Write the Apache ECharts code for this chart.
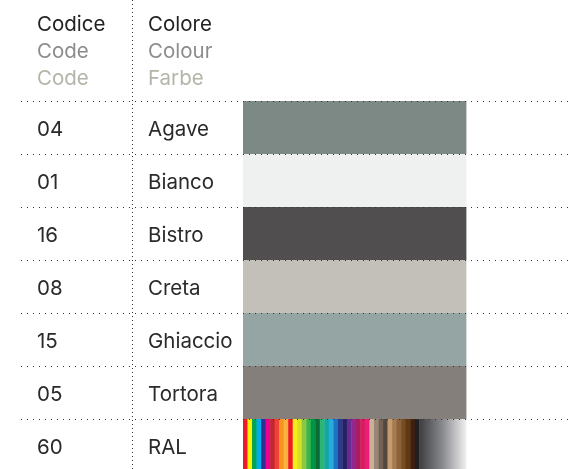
<!DOCTYPE html>
<html>
<head>
<meta charset="utf-8">
<script src="https://cdn.jsdelivr.net/npm/echarts@6/dist/echarts.min.js"></script>
<style>
html,body{margin:0;padding:0;background:#fff;overflow:hidden;}
#chart{width:585px;height:475px;}
</style>
</head>
<body>
<div id="chart"></div>
<script>
// ---- data ----
const codes = ['04', '01', '16', '08', '15', '05', '60'];
const names = ['Agave', 'Bianco', 'Bistro', 'Creta', 'Ghiaccio', 'Tortora', 'RAL'];
const swatchColors = ['#7d8985', '#eff1f0', '#514e4f', '#c3c0b9', '#95a5a3', '#847f7b', null];
const headerCode = ['Codice', 'Code', 'Code'];
const headerColour = ['Colore', 'Colour', 'Farbe'];
const headerColors = ['#222222', '#8c8c8c', '#b5b4a9'];
const ralStripes = [
  '#ed1c24', '#fff200', '#00a651', '#00aeef', '#2e3192', '#ec008c', '#c1272d', '#ef4136',
  '#f7941d', '#fbb040', '#ed1c24', '#f7ec1d', '#d7df23', '#8dc63f', '#39b54a', '#009444',
  '#0b6c3a', '#2bb673', '#13a89e', '#27aae1', '#1c75bc', '#2b3990', '#262262', '#662d91',
  '#92278f', '#a91e62', '#da1c5c', '#ed1e79', '#c7b299', '#998675', '#736357', '#534741',
  '#c69c6d', '#a67c52', '#8c6239', '#754c24', '#603913', '#42210b', '#231f20'
];
const ralStripeSpan = 0.79;   // share of the swatch covered by stripes
const ralGradient = ['#3d3d40', '#8a8b8f', '#f0f0f0'];

// ---- layout ----
const GRID_LEFT = 21, GRID_RIGHT = 570, SW_LEFT = 243, SW_RIGHT = 466;
const swW = SW_RIGHT - SW_LEFT;
const xMin = -(SW_LEFT - GRID_LEFT) / swW;
const xMax = (GRID_RIGHT - SW_LEFT) / swW;
const ROW_H = 53, GRID_TOP = 101;
const FONT = 20.5;

// build rectangles
const items = [];
swatchColors.forEach((c, i) => {
  if (c) items.push({ value: [0, 1, i], fill: c });
});
const ralRow = names.indexOf('RAL');
const sw = ralStripeSpan / ralStripes.length;
ralStripes.forEach((c, k) => {
  items.push({ value: [k * sw, (k + 1) * sw, ralRow], fill: c });
});
items.push({
  value: [ralStripeSpan, 1, ralRow],
  fill: new echarts.graphic.LinearGradient(0, 0, 1, 0, [
    { offset: 0, color: ralGradient[0] },
    { offset: 0.5, color: ralGradient[1] },
    { offset: 1, color: ralGradient[2] }
  ])
});

const chart = echarts.init(document.getElementById('chart'), null, { renderer: 'canvas' });

const headerGraphics = [];
headerCode.forEach((t, i) => {
  headerGraphics.push({
    type: 'text', left: 37, top: 14 + i * 27,
    style: { text: t, fill: headerColors[i], font: '400 ' + FONT + 'px Inter' }
  });
});
headerColour.forEach((t, i) => {
  headerGraphics.push({
    type: 'text', left: 148, top: 14 + i * 27,
    style: { text: t, fill: headerColors[i], font: '400 ' + FONT + 'px Inter' }
  });
});
headerGraphics.push({
  type: 'line', z: 10,
  shape: { x1: 132.5, y1: 0, x2: 132.5, y2: 469 },
  style: { stroke: '#333', lineWidth: 1, lineDash: [1, 3] }
});

chart.setOption({
  animation: false,
  backgroundColor: '#ffffff',
  grid: { left: GRID_LEFT, width: GRID_RIGHT - GRID_LEFT, top: GRID_TOP, height: ROW_H * codes.length },
  xAxis: { type: 'value', min: xMin, max: xMax, show: false },
  yAxis: {
    type: 'category', data: codes, inverse: true, z: 5,
    axisLine: { show: false }, axisTick: { show: false },
    splitLine: { show: true, interval: 0, lineStyle: { color: '#333', width: 1, type: [1, 5] } },
    axisLabel: {
      inside: true, margin: 16, interval: 0, padding: [5, 0, 0, 0],
      formatter: (v, i) => '{c|' + v + '}{n|' + names[i] + '}',
      rich: {
        c: { width: 111, fontSize: FONT, fontFamily: 'Inter', color: '#2a2a2a' },
        n: { fontSize: FONT, fontFamily: 'Inter', color: '#2a2a2a' }
      }
    }
  },
  graphic: headerGraphics,
  series: [{
    type: 'custom',
    z: 2,
    renderItem: function (params, api) {
      const p0 = api.coord([api.value(0), api.value(2)]);
      const p1 = api.coord([api.value(1), api.value(2)]);
      const h = api.size([0, 1])[1];
      return {
        type: 'rect',
        shape: { x: p0[0], y: p0[1] - h / 2, width: p1[0] - p0[0] + 0.4, height: h },
        style: { fill: items[params.dataIndex].fill }
      };
    },
    encode: { x: [0, 1], y: 2 },
    data: items.map(d => d.value)
  }]
});
</script>
</body>
</html>
